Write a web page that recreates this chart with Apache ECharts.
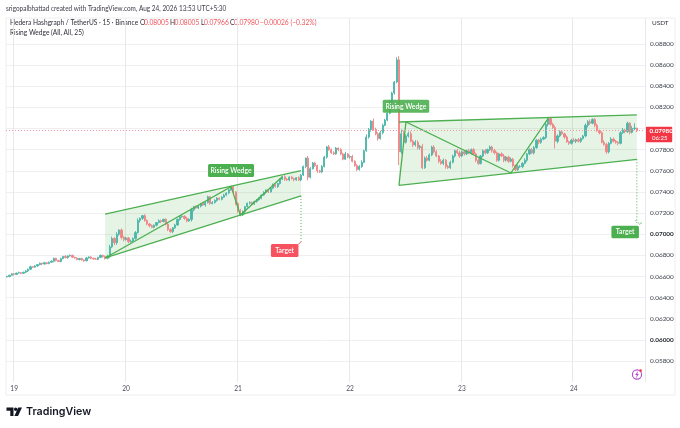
<!DOCTYPE html>
<html><head><meta charset="utf-8">
<style>html,body{margin:0;padding:0;background:#fff}#c{width:680px;height:428px}</style>
<script src="https://cdn.jsdelivr.net/npm/echarts@6/dist/echarts.min.js"></script>
</head><body><div id="c"></div>
<script>
const dayLabels = ['19','20','21','22','23','24'];
const dayStartIndex = [3,51,99,147,195,243];
const priceTicks = [0.088,0.086,0.084,0.082,0.078,0.076,0.074,0.072,0.070,0.068,0.066,0.064,0.062,0.060,0.058];
const gridPrices = [0.088,0.086,0.084,0.082,0.080,0.078,0.076,0.074,0.072,0.070,0.068,0.066,0.064,0.062,0.060,0.058];
const lastPrice = 0.0798;
// closes, in 1e-5 USDT, half-hour candles
const closes = [
6600,6612,6625,6620,6632,6636,6630,6640,6652,6668,
6692,6688,6700,6712,6725,6718,6730,6722,6735,6745,
6772,6750,6742,6768,6790,6778,6794,6800,6782,6775,
6760,6770,6756,6748,6775,6785,6772,6765,6762,6780,
6800,6788,6772,6790,6880,6960,6920,7000,7040,6970,
6950,6965,6930,6935,6960,7015,7130,7150,7175,7130,
7097,7080,7065,7085,7110,7128,7120,7141,7095,7045,
7025,7060,7087,7140,7166,7170,7150,7125,7140,7230,
7260,7248,7265,7290,7276,7300,7355,7290,7300,7320,
7342,7330,7350,7370,7390,7420,7450,7400,7290,7220,
7182,7215,7260,7293,7300,7285,7310,7324,7340,7370,
7395,7418,7400,7435,7466,7450,7480,7520,7544,7520,
7513,7540,7525,7515,7535,7513,7560,7640,7720,7540,
7620,7673,7650,7600,7590,7640,7730,7826,7800,7770,
7760,7815,7800,7760,7710,7760,7730,7735,7690,7650,
7612,7640,7680,7790,7920,7990,8070,7990,7950,7905,
7960,8030,8080,8145,8250,8336,8440,8650,7780,7950,
7870,7930,7950,7880,7845,7870,7820,7830,7630,7720,
7700,7750,7825,7780,7740,7690,7670,7700,7640,7630,
7680,7740,7790,7770,7740,7780,7760,7790,7770,7800,
7760,7700,7670,7740,7790,7770,7800,7825,7790,7770,
7700,7760,7740,7700,7730,7690,7710,7650,7610,7640,
7640,7670,7700,7760,7800,7770,7820,7890,7870,7900,
7915,8040,8095,8040,8010,7880,7930,7970,7950,7920,
7875,7860,7890,7880,7895,7880,7905,7930,8030,8065,
8050,8085,8030,7980,7960,7870,7850,7780,7860,7900,
7880,7870,7860,7960,7985,7970,8050,7965,8000,8005,7980];
const upperWicks = [
6,4,8,5,4,10,6,5,8,6, 10,5,8,6,7,5,9,6,5,8, 6,5,8,10,5,12,6,8,5,4, 6,5,8,6,10,5,6,5,12,6,
8,5,10,15,20,17,12,20,6,15, 12,10,8,14,10,15,20,8,7,15, 10,8,12,8,6,12,10,5,8,12, 10,8,12,10,6,10,8,15,10,20,
8,12,10,6,15,8,10,5,12,10, 8,6,10,12,6,8,5,10,8,15, 20,10,8,6,12,10,6,8,10,6, 12,6,10,8,15,10,6,8,5,15,
10,8,12,10,6,12,8,10,6,20, 15,10,12,8,10,15,12,8,18,12, 15,10,6,15,12,20,8,12,15,10, 12,15,20,10,25,15,10,25,18,15,
20,15,12,10,15,12,10,25,36,40, 30,15,20,25,12,20,18,15,25,15, 20,15,12,18,15,10,20,15,12,18, 15,12,10,18,20,12,15,10,18,12,
15,12,20,10,12,18,10,15,12,18, 12,10,15,20,10,12,15,12,10,18, 15,12,20,10,12,18,15,10,12,15, 12,25,10,12,15,20,15,12,18,10,
15,10,12,20,10,15,12,10,18,15, 20,12,15,18,10,12,20,15,12,18, 15,12,10,15,20,12,15,10,25,45,0];
const lowerWicks = [
5,8,4,10,6,5,8,6,7,10, 8,6,5,8,6,10,5,7,6,5, 10,6,5,8,6,5,10,6,8,7, 5,8,6,10,5,6,8,6,5,8,
5,8,12,10,15,12,25,20,15,20, 18,12,15,10,15,12,8,20,15,12, 12,15,8,10,12,8,15,10,12,15, 12,15,10,8,12,10,15,12,8,20,
15,8,10,12,8,15,10,12,8,10, 12,8,10,6,10,12,8,10,15,18, 12,10,15,8,12,10,8,12,6,10, 8,12,10,6,10,8,12,10,8,15,
10,12,8,15,10,8,12,10,15,30, 12,8,15,20,10,12,8,15,10,12, 10,8,15,12,10,8,12,15,10,12, 15,10,12,8,10,15,20,12,15,20,
10,15,8,12,10,20,15,12,125,20, 15,12,15,10,20,15,18,20,15,12, 15,10,12,15,10,18,12,15,20,12, 12,10,15,12,18,10,15,12,10,15,
12,18,15,10,12,15,10,12,18,15, 15,12,10,18,12,15,10,18,12,10, 12,15,10,18,12,10,15,12,18,15, 10,15,20,12,15,70,20,12,10,18,
10,15,12,10,18,12,15,10,12,20, 15,10,18,12,15,10,12,20,15,10, 12,15,18,10,12,15,10,20,12,15,14];
// chart pattern anchors, [candle index, price]
const wedgeA = {ul:[41.5,0.07191], ur:[126.4,0.07601], lr:[126.4,0.07362], ll:[41.5,0.06775]};
const wedgeAZig = [[41.5,0.06775],[95.9,0.07450],[99.8,0.07182],[117.8,0.07544]];
const wedgeATarget = [[126.4,0.07362],[126.4,0.06929]];
const wedgeB = {ul:[168.2,0.08062], ur:[269.9,0.0813], lr:[269.9,0.07708], ll:[168.2,0.07463]};
const wedgeBZig = [[168.2,0.07463],[171.2,0.08062],[216.2,0.07579],[232.0,0.08097]];
const wedgeBTarget = [[269.9,0.07708],[270.0,0.07115]];
const tags = [
 {text:'Rising Wedge', at:[95.9,0.07603], w:46, h:13, fill:'#4caf50'},
 {text:'Target', at:[119.2,0.06846], w:27.5, h:13, fill:'#f7525f'},
 {text:'Rising Wedge', at:[171.2,0.0821], w:46.5, h:13, fill:'rgba(76,175,80,0.9)'},
 {text:'Target', at:[265.4,0.07021], w:27.5, h:12.5, fill:'#4caf50'}
];

const GREEN='#4caf50', FILL='rgba(76,175,80,0.14)', UP='#4db6a9', DOWN='#f08484', FONT='Lato, "Open Sans", sans-serif';
const cats = [];
for (let i=0;i<274;i++){ const d=dayStartIndex.indexOf(i); cats.push(d>=0?dayLabels[d]:''); }
const candles = closes.map((c,i)=>{
  const o = i===0 ? c-4 : closes[i-1];
  return [o/1e5, c/1e5, (Math.min(o,c)-lowerWicks[i])/1e5, (Math.max(o,c)+upperWicks[i])/1e5];
});
const isDay = i => dayStartIndex.indexOf(i)>=0;

const chart = echarts.init(document.getElementById('c'),null,{renderer:'canvas'});
function poly(api,w){return {type:'polygon',shape:{points:[w.ul,w.ur,w.lr,w.ll].map(p=>api.coord(p))},style:{fill:FILL,stroke:null}};}
function pl(api,pts,extra){return {type:'polyline',shape:{points:pts.map(p=>api.coord(p))},style:Object.assign({fill:null,stroke:GREEN,lineWidth:1.3},extra||{})};}
const HF='6.7px '+FONT;

chart.setOption({
  animation:false,
  backgroundColor:'#fff',
  textStyle:{fontFamily:FONT},
  grid:{left:6,right:35,top:18,bottom:46,show:false},
  xAxis:{type:'category',data:cats,boundaryGap:true,
    axisLine:{show:false},axisTick:{show:false},
    axisLabel:{interval:(i)=>isDay(i),color:'#4a4e59',fontSize:6.6,margin:3,fontFamily:FONT},
    splitLine:{show:true,interval:(i)=>isDay(i),lineStyle:{color:'#e8e8ea',width:1}}},
  yAxis:{type:'value',position:'right',min:0.056014,max:0.09046,scale:true,
    axisLine:{show:false},axisTick:{show:false,customValues:gridPrices},
    axisLabel:{customValues:priceTicks,color:'#3c404b',fontSize:6.4,margin:5,fontFamily:FONT,
      formatter:v=>{const s=v.toFixed(5);return (Math.abs(v-0.07)<1e-6||Math.abs(v-0.06)<1e-6)?'{b|'+s+'}':s;},
      rich:{b:{fontWeight:'bold',fontSize:6.4,color:'#22252e'}}},
    splitLine:{show:true,lineStyle:{color:'#efeff2',width:1}}},
  series:[
    {type:'custom',z:1,silent:true,clip:false,data:[0],
     renderItem:(p,api)=>({type:'group',children:[poly(api,wedgeA),poly(api,wedgeB)]})},
    {type:'candlestick',z:2,barWidth:1.7,data:candles,silent:true,
     itemStyle:{color:UP,color0:DOWN,borderColor:UP,borderColor0:DOWN,borderWidth:0.9},
     markLine:{silent:true,symbol:'none',animation:false,precision:5,label:{show:false},
       lineStyle:{color:'#f29aa0',type:[1,2],width:1},data:[{yAxis:lastPrice}]}},
    {type:'custom',z:3,silent:true,clip:false,data:[0],
     renderItem:(p,api)=>{
       const ch=[];
       for(const w of [wedgeA,wedgeB]){ ch.push(pl(api,[w.ul,w.ur])); ch.push(pl(api,[w.ll,w.lr])); }
       ch.push(pl(api,wedgeAZig)); ch.push(pl(api,wedgeBZig));
       ch.push(pl(api,wedgeATarget,{lineDash:[1,2],lineWidth:1}));
       ch.push(pl(api,wedgeBTarget,{lineDash:[1,2],lineWidth:1}));
       const a=api.coord(wedgeATarget[1]), b=api.coord(wedgeBTarget[1]);
       ch.push({type:'polyline',shape:{points:[[a[0],a[1]],[a[0]-3,a[1]+3]]},style:{fill:null,stroke:'#f7525f',lineWidth:1}});
       ch.push({type:'polyline',shape:{points:[[b[0]-1,b[1]-2],[b[0],b[1]+1],[b[0]+5,b[1]+1],[b[0]+2,b[1]+3]]},style:{fill:null,stroke:GREEN,lineWidth:0.8,lineDash:[1,1]}});
       for(const t of tags){
         const c=api.coord(t.at);
         ch.push({type:'rect',shape:{x:c[0]-t.w/2,y:c[1]-t.h/2,width:t.w,height:t.h,r:1.5},style:{fill:t.fill}});
         ch.push({type:'text',x:c[0],y:c[1],style:{text:t.text,fill:'#fff',font:'600 6.8px '+FONT,align:'center',verticalAlign:'middle'}});
       }
       return {type:'group',children:ch};
     }}
  ],
  graphic:[
    {type:'rect',silent:true,z:-1,shape:{x:6,y:18,width:669,height:377},style:{fill:null,stroke:'#eeeef0',lineWidth:1}},
    {type:'text',x:6,y:5,scaleX:0.945,style:{text:'srigopalbhattad created with TradingView.com, Aug 24, 2026 13:53 UTC+5:30',fill:'#3a3d47',font:'6.8px '+FONT}},
    {type:'text',left:10,top:19,style:{text:'Hedera Hashgraph / TetherUS · 15 · Binance',fill:'#2e3038',font:'6.6px '+FONT}},
    {type:'text',left:140,top:19,style:{text:'O',fill:'#2e3038',font:HF}},
    {type:'text',left:144,top:19,style:{text:'0.08005',fill:'#f0555c',font:HF}},
    {type:'text',left:170,top:19,style:{text:'H',fill:'#2e3038',font:HF}},
    {type:'text',left:174.5,top:19,style:{text:'0.08005',fill:'#f0555c',font:HF}},
    {type:'text',left:201,top:19,style:{text:'L',fill:'#2e3038',font:HF}},
    {type:'text',left:204,top:19,style:{text:'0.07966',fill:'#f0555c',font:HF}},
    {type:'text',left:230,top:19,style:{text:'C',fill:'#2e3038',font:HF}},
    {type:'text',left:234,top:19,style:{text:'0.07980',fill:'#f0555c',font:HF}},
    {type:'text',left:260,top:19,style:{text:'−0.00026 (−0.32%)',fill:'#f0555c',font:HF}},
    {type:'text',left:10,top:29,style:{text:'Rising Wedge (All, All, 25)',fill:'#2e3038',font:'6.6px '+FONT}},
    {type:'text',left:652,top:20,style:{text:'USDT',fill:'#2e3038',font:'6.4px '+FONT}},
    {type:'rect',shape:{x:645.7,y:126.7,width:26.5,height:15.6,r:1},style:{fill:'#f23645'}},
    {type:'text',left:649.5,top:127.8,style:{text:'0.07980',fill:'#fff',font:'bold 6.3px '+FONT}},
    {type:'text',left:652,top:134.8,style:{text:'06:25',fill:'#fff',font:'6px '+FONT}},
    {type:'circle',shape:{cx:637,cy:374.5,r:4.6},style:{fill:'#fff',stroke:'#b44fd0',lineWidth:1.1}},
    {type:'polygon',shape:{points:[[638,370.8],[635.2,375],[636.8,375],[636,378.2],[638.9,374],[637.3,374]]},style:{fill:'#b44fd0'}},
    {type:'circle',shape:{cx:640.6,cy:370.6,r:1.3},style:{fill:'#f23645'}},
    {type:'polygon',shape:{points:[[6.5,407.5],[13.5,407.5],[13.5,416],[10.3,416],[10.3,410.7],[6.5,410.7]]},style:{fill:'#131722'}},
    {type:'circle',shape:{cx:15.7,cy:409.2,r:1.7},style:{fill:'#131722'}},
    {type:'polygon',shape:{points:[[18.2,407.5],[22,407.5],[18,416],[14.4,416]]},style:{fill:'#131722'}},
    {type:'text',left:26,top:406,style:{text:'TradingView',fill:'#131722',font:'600 10.7px Inter, '+FONT}}
  ]
});
</script></body></html>
